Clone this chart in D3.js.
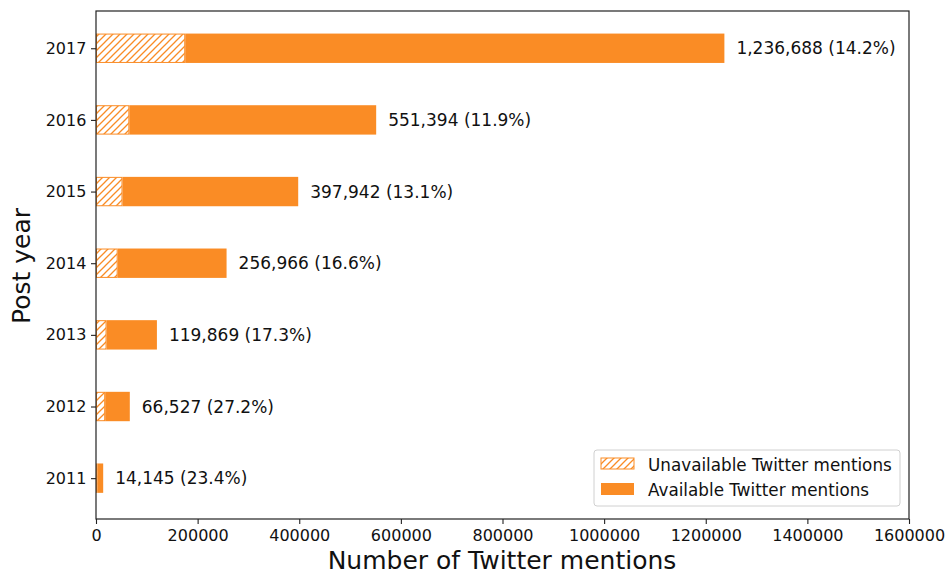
<!DOCTYPE html>
<html><head><meta charset="utf-8">
<script src="https://cdn.jsdelivr.net/npm/d3@7"></script>
<style>body{margin:0;background:#fff}svg{font-family:"DejaVu Sans",sans-serif}</style>
</head><body><svg id="c" width="949" height="571"></svg>
<script>
const years = ["2011","2012","2013","2014","2015","2016","2017"];
const totals = [14145, 66527, 119869, 256966, 397942, 551394, 1236688];
const unavailPct = [23.4, 27.2, 17.3, 16.6, 13.1, 11.9, 14.2];
const unavailable = [3310, 18095, 20737, 42656, 52130, 65616, 175610];
const xTicks = [0,200000,400000,600000,800000,1000000,1200000,1400000,1600000];

const color = "#fa8c25";
const svg = d3.select("#c");
const L=96, R=909, T=11, B=519;
const x = d3.scaleLinear().domain([0,1600000]).range([L,R]);
const y = d3.scaleLinear().domain([-0.57,6.52]).range([B,T]);
const bh = y(0)-y(0.41);

const defs = svg.append("defs");
const pat = defs.append("pattern").attr("id","hatch").attr("patternUnits","userSpaceOnUse")
  .attr("width",7).attr("height",7);
pat.append("rect").attr("width",7).attr("height",7).attr("fill","#fff");
pat.append("path").attr("d","M-1,1 l2,-2 M0,7 l7,-7 M6,8 l2,-2").attr("stroke",color).attr("stroke-width",1.3);

const fmt = d3.format(",");
const g = svg.append("g");
years.forEach((yr,i)=>{
  const cy = y(i);
  g.append("rect").attr("x",x(unavailable[i])).attr("y",cy-bh/2)
    .attr("width",x(totals[i])-x(unavailable[i])).attr("height",bh).attr("fill",color);
  g.append("rect").attr("x",x(0)+0.5).attr("y",cy-bh/2+0.5)
    .attr("width",Math.max(0,x(unavailable[i])-x(0)-1)).attr("height",bh-1)
    .attr("fill","url(#hatch)").attr("stroke",color).attr("stroke-width",1);
  g.append("text").attr("x",x(totals[i])+12).attr("y",cy).attr("dy","0.36em")
    .style("font-size","17px").attr("fill","#111")
    .text(`${fmt(totals[i])} (${unavailPct[i].toFixed(1)}%)`);
});

// axes
const xa = svg.append("g").attr("transform",`translate(0,${B})`)
  .call(d3.axisBottom(x).tickValues(xTicks).tickFormat(d3.format("d")).tickSize(5).tickSizeOuter(0));
const ya = svg.append("g").attr("transform",`translate(${L},0)`)
  .call(d3.axisLeft(y).tickValues(d3.range(years.length)).tickFormat(i=>years[i]).tickSize(5).tickSizeOuter(0));
[xa,ya].forEach(a=>a.attr("font-family","DejaVu Sans, sans-serif").attr("font-size",16));
xa.selectAll("text").style("font-size","16px").attr("fill","#111").attr("dy","0.9em");
ya.selectAll("text").style("font-size","16px").attr("fill","#111").attr("dx","-0.1em");
svg.selectAll(".domain").remove();
svg.selectAll(".tick line").attr("stroke","#222").attr("stroke-width",1.1);
svg.append("rect").attr("x",L).attr("y",T).attr("width",R-L).attr("height",B-T)
  .attr("fill","none").attr("stroke","#222").attr("stroke-width",1.2);

svg.append("text").attr("x",502).attr("y",569).attr("text-anchor","middle")
  .style("font-size","25px").attr("fill","#111").text("Number of Twitter mentions");
svg.append("text").attr("transform",`translate(30,${(T+B)/2+1}) rotate(-90)`).attr("text-anchor","middle")
  .style("font-size","25px").attr("fill","#111").text("Post year");

// legend
const lg = svg.append("g").attr("transform","translate(594,450)");
lg.append("rect").attr("width",306).attr("height",56).attr("rx",3).attr("fill","#fff")
  .attr("stroke","#d0d0d0").attr("stroke-width",1);
lg.append("rect").attr("x",7).attr("y",8).attr("width",33).attr("height",11)
  .attr("fill","url(#hatch)").attr("stroke",color).attr("stroke-width",1);
lg.append("rect").attr("x",7).attr("y",33).attr("width",33).attr("height",12).attr("fill",color);
lg.append("text").attr("x",54).attr("y",15).attr("dy","0.36em").style("font-size","16.8px").attr("fill","#111")
  .text("Unavailable Twitter mentions");
lg.append("text").attr("x",54).attr("y",40).attr("dy","0.36em").style("font-size","16.8px").attr("fill","#111")
  .text("Available Twitter mentions");
</script></body></html>
